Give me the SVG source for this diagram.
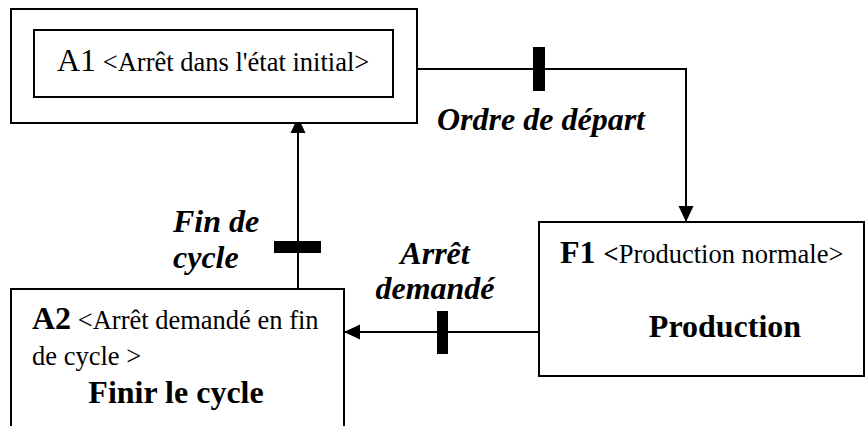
<svg xmlns="http://www.w3.org/2000/svg" width="865" height="426" viewBox="0 0 865 426">
<style>
  .box { fill: #ffffff; stroke: #000000; stroke-width: 2; }
  .open { fill: none; stroke: #000000; stroke-width: 2; }
  .wire { fill: none; stroke: #000000; stroke-width: 2; }
  .bar { fill: #000000; stroke: none; }
  .sm { font-size: 26.5px; }
  .lg { font-size: 32px; }
  .b { font-weight: bold; }
  .lbl { font-size: 32px; font-weight: bold; font-style: italic; }
</style>
<defs>
  <marker id="arr" markerUnits="userSpaceOnUse" markerWidth="16" markerHeight="16" refX="16" refY="8" orient="auto">
    <path d="M0,0.5 L16,8 L0,15.5 z" fill="#000000"/>
  </marker>
</defs>
<rect width="865" height="426" fill="#ffffff"/>

<g id="connectors">
  <path class="wire" d="M417,69 H686 V222" marker-end="url(#arr)"/>
  <rect class="bar" x="533" y="47" width="12" height="44"/>
  <path class="wire" d="M539,332 H344" marker-end="url(#arr)"/>
  <rect class="bar" x="437" y="311" width="11" height="43"/>
  <path class="wire" d="M298,289 V117" marker-end="url(#arr)"/>
  <rect class="bar" x="274" y="241" width="47" height="12"/>
</g>

<g font-family="'Liberation Serif', 'DejaVu Serif', serif" fill="#000000">
<g id="A1">
  <rect class="box" x="11" y="9" width="406" height="114"/>
  <rect class="box" x="34" y="30" width="359" height="67"/>
  <text x="57" y="71"><tspan class="lg">A1</tspan><tspan class="sm"> &lt;Arrêt dans l'état initial&gt;</tspan></text>
</g>

<g id="F1">
  <rect class="box" x="539" y="222" width="325" height="154"/>
  <text x="560" y="263"><tspan class="lg b">F1 </tspan><tspan class="sm b">&lt;</tspan><tspan class="sm">Production normale&gt;</tspan></text>
  <text class="lg b" x="725" y="337" text-anchor="middle">Production</text>
</g>

<g id="A2">
  <path class="open" d="M11,427 V289 H344 V427"/>
  <text x="32" y="329"><tspan class="lg b">A2</tspan><tspan class="sm"> &lt;Arrêt demandé en fin</tspan></text>
  <text class="sm" x="32" y="365">de cycle &gt;</text>
  <text class="lg b" x="176" y="403" text-anchor="middle">Finir le cycle</text>
</g>

<g id="labels">
  <text class="lbl" x="437" y="130">Ordre de départ</text>
  <text class="lbl" x="173" y="232">Fin de</text>
  <text class="lbl" x="173" y="268">cycle</text>
  <text class="lbl" x="435" y="264" text-anchor="middle">Arrêt</text>
  <text class="lbl" x="435" y="299" text-anchor="middle">demandé</text>
</g>
</g>
</svg>
